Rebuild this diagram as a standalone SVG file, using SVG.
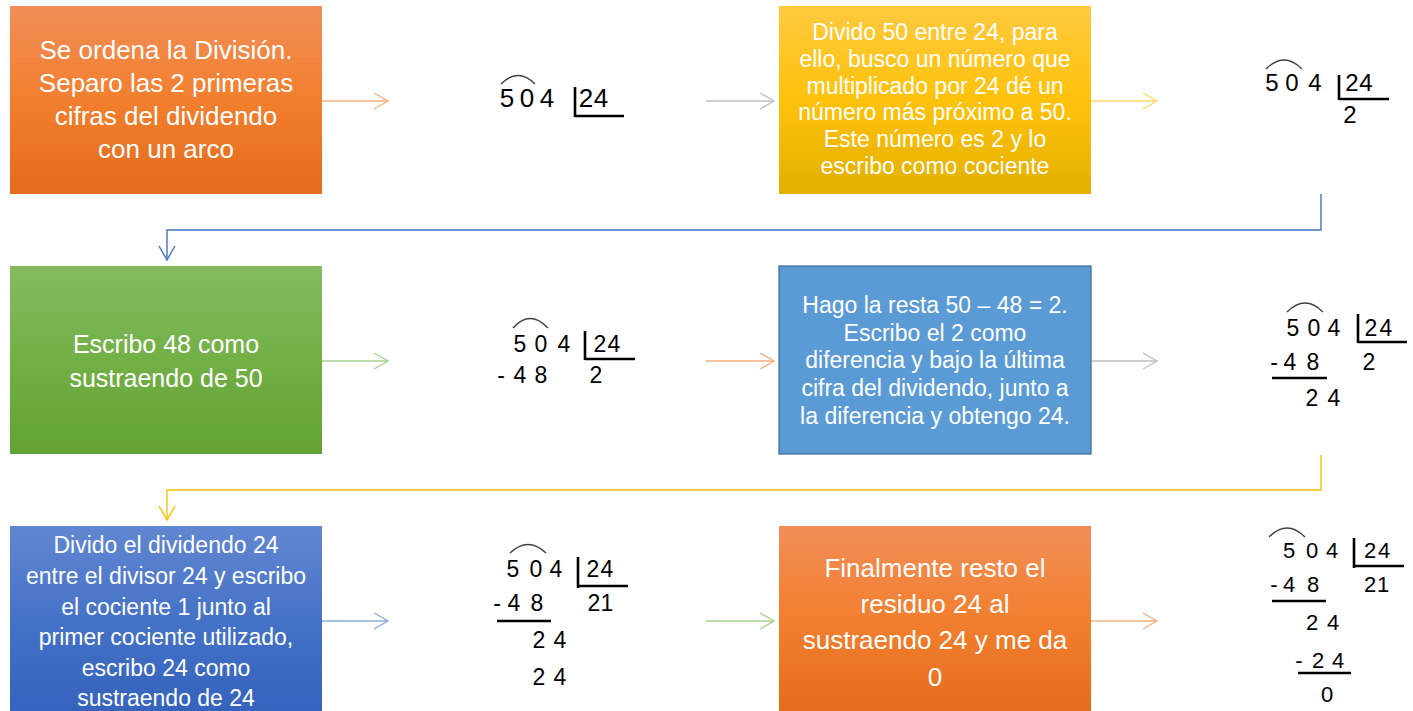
<svg xmlns="http://www.w3.org/2000/svg" width="1413" height="711" viewBox="0 0 1413 711">
<style>
.t{font-family:"Liberation Sans",Arial,sans-serif;fill:#ffffff;text-anchor:middle}
.d{font-family:"Liberation Sans",Arial,sans-serif;fill:#000000;text-anchor:middle}
.bar{stroke:#000;stroke-width:2.6;fill:none}
.arc{stroke:#404040;stroke-width:1.4;fill:none}
.c{fill:none;stroke-width:1.4}
</style>
<defs>
<linearGradient id="gOr" x1="0" y1="0" x2="0" y2="1"><stop offset="0" stop-color="#F18E58"/><stop offset="0.5" stop-color="#F27F2E"/><stop offset="1" stop-color="#E46C1C"/></linearGradient>
<linearGradient id="gYe" x1="0" y1="0" x2="0" y2="1"><stop offset="0" stop-color="#FFC93F"/><stop offset="0.5" stop-color="#FFC20B"/><stop offset="1" stop-color="#E2B000"/></linearGradient>
<linearGradient id="gGr" x1="0" y1="0" x2="0" y2="1"><stop offset="0" stop-color="#84BB61"/><stop offset="0.5" stop-color="#72B046"/><stop offset="1" stop-color="#63A233"/></linearGradient>
<linearGradient id="gBl" x1="0" y1="0" x2="0" y2="1"><stop offset="0" stop-color="#6287D2"/><stop offset="0.5" stop-color="#4472C6"/><stop offset="1" stop-color="#3462BD"/></linearGradient>
<marker id="mOr" markerUnits="userSpaceOnUse" markerWidth="18" markerHeight="20" refX="15" refY="9" orient="auto"><path d="M1,1 L15,9 L1,17" fill="none" stroke="#F4B183" stroke-width="1.4"/></marker>
<marker id="mGy" markerUnits="userSpaceOnUse" markerWidth="18" markerHeight="20" refX="15" refY="9" orient="auto"><path d="M1,1 L15,9 L1,17" fill="none" stroke="#BFBFBF" stroke-width="1.4"/></marker>
<marker id="mYe" markerUnits="userSpaceOnUse" markerWidth="18" markerHeight="20" refX="15" refY="9" orient="auto"><path d="M1,1 L15,9 L1,17" fill="none" stroke="#FFD966" stroke-width="1.4"/></marker>
<marker id="mGr" markerUnits="userSpaceOnUse" markerWidth="18" markerHeight="20" refX="15" refY="9" orient="auto"><path d="M1,1 L15,9 L1,17" fill="none" stroke="#A9D18E" stroke-width="1.4"/></marker>
<marker id="mLb" markerUnits="userSpaceOnUse" markerWidth="18" markerHeight="20" refX="15" refY="9" orient="auto"><path d="M1,1 L15,9 L1,17" fill="none" stroke="#8FAADC" stroke-width="1.4"/></marker>
<marker id="mBl" markerUnits="userSpaceOnUse" markerWidth="18" markerHeight="20" refX="15" refY="9" orient="auto"><path d="M1,1 L15,9 L1,17" fill="none" stroke="#4472C4" stroke-width="1.4"/></marker>
<marker id="mGd" markerUnits="userSpaceOnUse" markerWidth="18" markerHeight="20" refX="15" refY="9" orient="auto"><path d="M1,1 L15,9 L1,17" fill="none" stroke="#FFC000" stroke-width="1.4"/></marker>
</defs>
<rect width="1413" height="711" fill="#ffffff"/>

<g id="connectors">
<path class="c" d="M322,101 H388" stroke="#F4B183" marker-end="url(#mOr)"/>
<path class="c" d="M706,101 H774" stroke="#BFBFBF" marker-end="url(#mGy)"/>
<path class="c" d="M1091,101 H1157" stroke="#FFD966" marker-end="url(#mYe)"/>
<path class="c" d="M1321,194 V230 H167 V260" stroke="#4472C4" marker-end="url(#mBl)"/>
<path class="c" d="M322,361 H388" stroke="#A9D18E" marker-end="url(#mGr)"/>
<path class="c" d="M706,361 H774" stroke="#F4B183" marker-end="url(#mOr)"/>
<path class="c" d="M1092,361 H1157" stroke="#BFBFBF" marker-end="url(#mGy)"/>
<path class="c" d="M1321,455 V490 H167 V520" stroke="#FFC000" marker-end="url(#mGd)"/>
<path class="c" d="M322,621 H388" stroke="#8FAADC" marker-end="url(#mLb)"/>
<path class="c" d="M706,621 H774" stroke="#A9D18E" marker-end="url(#mGr)"/>
<path class="c" d="M1091,621 H1157" stroke="#F4B183" marker-end="url(#mOr)"/>
</g>

<g id="box1">
<rect x="10" y="6" width="312" height="188" fill="url(#gOr)"/>
<text class="t" font-size="26"><tspan x="166" y="59">Se ordena la División.</tspan><tspan x="166" y="92">Separo las 2 primeras</tspan><tspan x="166" y="125">cifras del dividendo</tspan><tspan x="166" y="158">con un arco</tspan></text>
</g>

<g id="div1">
<path class="arc" d="M501,84 Q518,67 535,84"/>
<text class="d" font-size="26" x="507 527 547" y="107">504</text>
<text class="d" font-size="26" x="586 601" y="107">24</text>
<path class="bar" d="M575,87 V117 M575,116 H624"/>
</g>

<g id="box2">
<rect x="779" y="6" width="312" height="188" fill="url(#gYe)"/>
<text class="t" font-size="23"><tspan x="935" y="40">Divido 50 entre 24, para</tspan><tspan x="935" y="67">ello, busco un número que</tspan><tspan x="935" y="94">multiplicado por 24 dé un</tspan><tspan x="935" y="120">número más próximo a 50.</tspan><tspan x="935" y="147">Este número es 2 y lo</tspan><tspan x="935" y="174">escribo como cociente</tspan></text>
</g>

<g id="div2">
<path class="arc" d="M1266,69 Q1284,51 1302,69"/>
<text class="d" font-size="24" x="1272 1292 1315" y="91">504</text>
<text class="d" font-size="24" x="1352 1366" y="91">24</text>
<path class="bar" d="M1339,75 V100 M1339,99 H1389"/>
<text class="d" font-size="24" x="1350" y="123">2</text>
</g>

<g id="box3">
<rect x="10" y="266" width="312" height="188" fill="url(#gGr)"/>
<text class="t" font-size="25"><tspan x="166" y="353">Escribo 48 como</tspan><tspan x="166" y="387">sustraendo de 50</tspan></text>
</g>

<g id="div3">
<path class="arc" d="M513,328 Q530,309 548,328"/>
<text class="d" font-size="23" x="520 541 564" y="352">504</text>
<text class="d" font-size="23" x="600 614" y="352">24</text>
<path class="bar" d="M585,331 V360 M585,359 H635"/>
<text class="d" font-size="23" x="501 520 541" y="383">-48</text>
<text class="d" font-size="23" x="596" y="383">2</text>
</g>

<g id="box4">
<rect x="779" y="266" width="312" height="188" fill="#5B9BD5" stroke="#41719C" stroke-width="1.3"/>
<text class="t" font-size="23"><tspan x="935" y="313">Hago la resta 50 – 48 = 2.</tspan><tspan x="935" y="341">Escribo el 2 como</tspan><tspan x="935" y="368">diferencia y bajo la última</tspan><tspan x="935" y="396">cifra del dividendo, junto a</tspan><tspan x="935" y="424">la diferencia y obtengo 24.</tspan></text>
</g>

<g id="div4">
<path class="arc" d="M1287,312 Q1305,294 1323,312"/>
<text class="d" font-size="23" x="1293 1314 1334" y="336">504</text>
<text class="d" font-size="23" x="1371 1386" y="336">24</text>
<path class="bar" d="M1358,314 V343 M1358,342 H1407"/>
<text class="d" font-size="23" x="1274 1290 1313" y="370">-48</text>
<text class="d" font-size="23" x="1369" y="370">2</text>
<path class="bar" d="M1272,378 H1327" stroke-width="3"/>
<text class="d" font-size="23" x="1312 1334" y="406">24</text>
</g>

<g id="box5">
<rect x="10" y="526" width="312" height="190" fill="url(#gBl)"/>
<text class="t" font-size="23"><tspan x="166" y="553">Divido el dividendo 24</tspan><tspan x="166" y="584">entre el divisor 24 y escribo</tspan><tspan x="166" y="615">el cociente 1 junto al</tspan><tspan x="166" y="645">primer cociente utilizado,</tspan><tspan x="166" y="676">escribo 24 como</tspan><tspan x="166" y="706">sustraendo de 24</tspan></text>
</g>

<g id="div5">
<path class="arc" d="M510,553 Q528,536 546,553"/>
<text class="d" font-size="23" x="513 536 556" y="577">504</text>
<text class="d" font-size="23" x="593 607" y="577">24</text>
<path class="bar" d="M578,557 V588 M578,586 H628"/>
<text class="d" font-size="23" x="497 514 537" y="611">-48</text>
<text class="d" font-size="23" x="594 607" y="611">21</text>
<path class="bar" d="M497,621 H551" stroke-width="3"/>
<text class="d" font-size="23" x="539 560" y="648">24</text>
<text class="d" font-size="23" x="539 560" y="685">24</text>
</g>

<g id="box6">
<rect x="779" y="526" width="312" height="190" fill="url(#gOr)"/>
<text class="t" font-size="26"><tspan x="935" y="577">Finalmente resto el</tspan><tspan x="935" y="613">residuo 24 al</tspan><tspan x="935" y="649">sustraendo 24 y me da</tspan><tspan x="935" y="686">0</tspan></text>
</g>

<g id="div6">
<path class="arc" d="M1269,537 Q1287,519 1305,537"/>
<text class="d" font-size="22" x="1289 1312 1332" y="558">504</text>
<text class="d" font-size="22" x="1370 1384" y="558">24</text>
<path class="bar" d="M1354,538 V568 M1354,566 H1404"/>
<text class="d" font-size="22" x="1274 1289 1313" y="592">-48</text>
<text class="d" font-size="22" x="1370 1383" y="592">21</text>
<path class="bar" d="M1272,601 H1326" stroke-width="3"/>
<text class="d" font-size="22" x="1312 1333" y="630">24</text>
<text class="d" font-size="22" x="1299 1318 1338" y="668">-24</text>
<path class="bar" d="M1298,673 H1351" stroke-width="3"/>
<text class="d" font-size="22" x="1327" y="702">0</text>
</g>
</svg>
